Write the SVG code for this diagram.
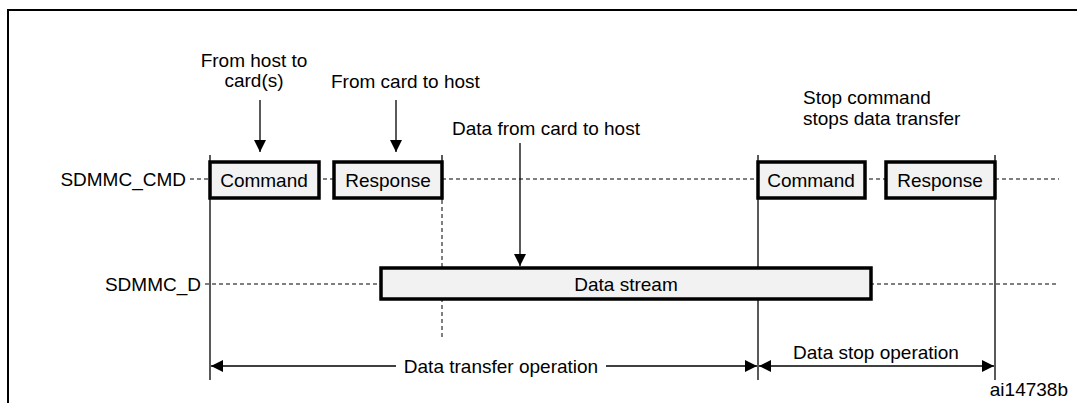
<svg xmlns="http://www.w3.org/2000/svg" width="1077" height="403" viewBox="0 0 1077 403">
<style>
text{font-family:"Liberation Sans",Arial,sans-serif;font-size:19px;fill:#000}
.box{fill:#f2f2f2;stroke:#000;stroke-width:3.5}
.dash{stroke:#000;stroke-width:1;stroke-dasharray:4,3;fill:none}
.ln{stroke:#000;stroke-width:1.3;fill:none}
</style>
<defs>
<marker id="ahl" viewBox="0 0 10 10" refX="10" refY="5" markerWidth="18" markerHeight="12" markerUnits="userSpaceOnUse" orient="auto-start-reverse"><path d="M0,0 L10,5 L0,10z" fill="#000"/></marker>
</defs>
<rect x="0" y="0" width="1077" height="403" fill="#fff"/>
<path d="M8,403 V10 H1077" fill="none" stroke="#000" stroke-width="2"/>
<g id="connectors">
<line class="dash" x1="190" y1="179" x2="1059" y2="179"/>
<line class="dash" x1="205" y1="284" x2="1059" y2="284"/>
<line class="ln" x1="210" y1="155" x2="210" y2="380"/>
<line class="ln" x1="442" y1="155" x2="442" y2="200"/>
<line class="dash" x1="442" y1="200" x2="442" y2="340" stroke-dasharray="8,4"/>
<line class="ln" x1="758" y1="155" x2="758" y2="380"/>
<line class="ln" x1="995" y1="155" x2="995" y2="380"/>
<line class="ln" x1="260" y1="100" x2="260" y2="152" marker-end="url(#ahl)"/>
<line class="ln" x1="396" y1="100" x2="396" y2="152" marker-end="url(#ahl)"/>
<line class="ln" x1="520" y1="143" x2="520" y2="266" marker-end="url(#ahl)"/>
<line class="ln" x1="211" y1="366" x2="396" y2="366" marker-start="url(#ahl)"/>
<line class="ln" x1="606" y1="366" x2="757" y2="366" marker-end="url(#ahl)"/>
<line class="ln" x1="759" y1="366" x2="994" y2="366" marker-start="url(#ahl)" marker-end="url(#ahl)"/>
</g>
<g id="labels">
<text x="186" y="186" text-anchor="end">SDMMC_CMD</text>
<text x="201" y="291" text-anchor="end">SDMMC_D</text>
<text x="254" y="67" text-anchor="middle">From host to</text>
<text x="254" y="87" text-anchor="middle">card(s)</text>
<text x="331" y="88">From card to host</text>
<text x="452" y="135">Data from card to host</text>
<text x="803" y="104">Stop command</text>
<text x="803" y="125">stops data transfer</text>
<text x="501" y="373" text-anchor="middle">Data transfer operation</text>
<text x="876" y="359" text-anchor="middle">Data stop operation</text>
<text x="1068" y="396" text-anchor="end" font-size="14">ai14738b</text>
</g>
<g id="cmd1"><rect class="box" x="210" y="162" width="109" height="36"/><text x="264" y="187" text-anchor="middle">Command</text></g>
<g id="resp1"><rect class="box" x="334" y="162" width="108" height="36"/><text x="388" y="187" text-anchor="middle">Response</text></g>
<g id="cmd2"><rect class="box" x="758" y="162" width="107" height="36"/><text x="811" y="187" text-anchor="middle">Command</text></g>
<g id="resp2"><rect class="box" x="886" y="162" width="109" height="36"/><text x="940" y="187" text-anchor="middle">Response</text></g>
<g id="stream"><rect class="box" x="381" y="268" width="490" height="31"/><text x="626" y="291" text-anchor="middle">Data stream</text></g>
</svg>
